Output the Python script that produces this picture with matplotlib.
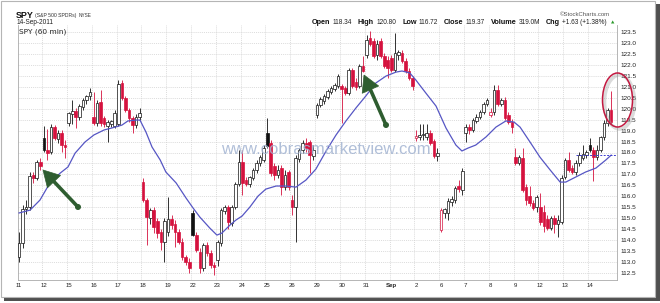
import numpy as np
import matplotlib
matplotlib.use("Agg")
import matplotlib.pyplot as plt
from matplotlib.patches import Rectangle, Ellipse, Polygon, Circle

# ---------------- data ----------------
day_labels = ['11', '12', '15', '16', '17', '18', '19', '22', '23', '24', '25', '26',
              '29', '30', '31', 'Sep', '2', '6', '7', '8', '9', '12', '13', '14']
bars_per_day = 7

opens = [113.23, 113.87, 115.42, 115.51, 116.97, 116.83, 117.56,
         118.66, 118.11, 118.02, 119.16, 118.61, 118.89, 118.34,
         119.35, 119.76, 119.89, 119.62, 120.08, 120.40, 120.58,
         119.62, 119.35, 120.30, 119.57, 119.21, 119.30, 119.21,
         119.30, 121.17, 120.49, 119.94, 119.57, 119.25, 119.62,
         116.65, 115.83, 115.01, 115.37, 114.87, 114.37, 113.91,
         114.37, 114.96, 114.73, 114.37, 113.91, 113.23, 113.00,
         115.24, 114.23, 113.45, 112.72, 113.77, 113.41, 112.86,
         113.09, 113.87, 115.33, 115.51, 114.78, 115.51, 116.56,
         117.56, 116.74, 116.56, 116.83, 117.20, 117.52, 117.66,
         118.89, 118.43, 117.38, 116.97, 117.29, 116.42, 117.11,
         115.83, 115.51, 117.70, 118.11, 118.43, 118.48, 117.84,
         119.71, 120.17, 120.35, 120.53, 120.76, 120.90, 121.03,
         121.03, 120.94, 120.72, 121.76, 121.22, 121.03, 121.95,
         122.45, 123.23, 123.09, 122.45, 123.09, 122.40, 122.22,
         122.31, 121.76, 122.45, 122.54, 122.18, 121.72, 121.40,
         118.66, 118.71, 118.80, 118.71, 118.89, 118.52, 117.84,
         114.46, 115.24, 115.24, 115.74, 115.83, 116.47, 116.29,
         118.89, 119.16, 119.03, 119.44, 119.62, 119.85, 120.21,
         119.71, 119.85, 120.85, 120.21, 120.40, 119.71, 119.39,
         117.79, 117.52, 117.75, 116.42, 116.01, 115.69, 115.51,
         115.51, 115.28, 114.96, 114.55, 115.01, 114.73, 114.82,
         116.88, 117.66, 117.29, 117.11, 117.52, 117.75, 117.88,
         118.34, 118.11, 117.79, 118.11, 118.71, 119.35, 119.94]

highs = [114.37, 115.60, 115.83, 117.11, 117.11, 117.66, 117.75,
         119.21, 119.07, 119.30, 119.25, 119.03, 119.03, 118.57,
         119.85, 120.40, 120.03, 120.21, 120.49, 120.62, 120.94,
         120.76, 120.40, 120.85, 119.66, 119.48, 119.48, 119.94,
         121.31, 121.31, 120.58, 120.03, 119.66, 119.76, 120.03,
         116.83, 115.92, 115.46, 115.51, 115.01, 114.51, 115.01,
         115.97, 115.14, 114.92, 114.51, 114.09, 113.32, 113.18,
         115.37, 114.37, 113.64, 113.87, 113.91, 113.55, 113.00,
         114.00, 115.46, 115.60, 115.60, 115.60, 116.65, 118.11,
         118.11, 116.88, 116.93, 117.29, 117.66, 117.88, 118.34,
         119.57, 118.57, 117.52, 117.43, 117.43, 117.20, 117.20,
         116.06, 117.88, 118.20, 118.57, 118.66, 118.57, 118.34,
         120.26, 120.53, 120.67, 120.90, 121.03, 121.17, 121.58,
         121.13, 121.03, 121.86, 121.86, 121.40, 122.04, 122.40,
         123.36, 123.55, 123.23, 123.13, 123.23, 122.54, 122.40,
         122.45, 123.45, 122.68, 122.68, 122.31, 121.86, 121.49,
         119.03, 119.30, 119.30, 119.30, 119.03, 118.61, 118.20,
         115.46, 115.46, 115.92, 116.01, 116.47, 116.74, 117.29,
         119.30, 119.30, 119.57, 119.76, 119.94, 120.30, 120.49,
         120.03, 121.08, 121.08, 120.49, 120.53, 119.85, 119.53,
         118.20, 117.88, 118.20, 116.56, 116.47, 115.83, 116.06,
         116.15, 115.60, 115.14, 115.10, 115.14, 115.14, 116.97,
         117.75, 118.02, 117.43, 117.66, 118.02, 118.34, 118.11,
         118.66, 118.25, 118.34, 118.75, 119.48, 120.03, 120.80]

lows = [113.00, 113.64, 115.19, 115.37, 116.61, 116.74, 117.20,
        118.02, 117.66, 117.93, 118.57, 118.43, 118.02, 117.75,
        119.21, 119.30, 119.12, 119.48, 119.94, 120.21, 120.40,
        119.25, 119.21, 119.21, 119.16, 118.48, 119.16, 119.12,
        119.21, 120.40, 119.85, 119.39, 118.89, 119.12, 119.48,
        115.74, 113.77, 114.73, 114.32, 114.09, 113.55, 113.00,
        114.19, 114.51, 113.68, 113.82, 113.09, 112.86, 112.50,
        114.19, 113.45, 112.50, 112.59, 113.27, 112.72, 112.40,
        112.82, 113.73, 115.19, 114.51, 114.64, 115.42, 116.47,
        116.06, 116.47, 116.42, 116.74, 117.06, 117.38, 117.56,
        118.20, 116.93, 116.74, 116.83, 116.06, 116.29, 116.29,
        115.14, 113.91, 117.56, 117.97, 118.02, 117.06, 117.66,
        119.57, 120.08, 120.21, 120.44, 120.67, 120.81, 120.94,
        119.35, 120.62, 120.62, 120.94, 120.85, 120.94, 121.67,
        122.31, 122.86, 122.31, 122.22, 122.31, 121.86, 121.40,
        121.67, 121.67, 122.22, 122.08, 121.63, 121.31, 120.85,
        118.52, 118.57, 118.57, 118.57, 118.34, 117.75, 117.61,
        114.37, 115.01, 114.92, 115.56, 115.69, 116.19, 116.06,
        118.48, 118.84, 118.93, 119.35, 119.53, 119.76, 120.12,
        119.62, 119.71, 120.12, 120.12, 119.48, 119.30, 118.89,
        117.43, 117.43, 116.19, 115.60, 115.56, 115.37, 115.28,
        114.69, 114.37, 114.46, 114.46, 114.32, 114.14, 114.73,
        116.79, 117.11, 117.02, 116.97, 117.38, 117.66, 117.75,
        118.02, 116.72, 117.66, 118.02, 118.57, 119.21, 119.30]

closes = [113.87, 115.42, 115.51, 116.93, 116.83, 117.56, 117.38,
          118.11, 117.97, 119.16, 118.66, 118.89, 118.34, 118.25,
          119.80, 119.89, 119.62, 120.12, 120.40, 120.58, 120.76,
          119.35, 120.26, 119.35, 119.30, 119.39, 119.44, 119.80,
          121.13, 120.49, 119.94, 119.57, 119.25, 119.62, 119.80,
          115.83, 115.05, 115.37, 114.60, 114.32, 113.91, 114.87,
          114.96, 114.69, 114.37, 113.91, 113.23, 113.00, 112.72,
          114.23, 113.55, 112.72, 113.77, 113.41, 112.86, 112.77,
          113.91, 115.37, 115.51, 114.82, 115.51, 116.56, 117.56,
          116.61, 116.56, 116.88, 117.20, 117.52, 117.79, 118.20,
          118.29, 117.06, 116.97, 117.20, 116.42, 116.97, 116.42,
          115.51, 117.75, 118.11, 118.43, 118.20, 117.88, 118.11,
          120.17, 120.44, 120.58, 120.81, 120.94, 121.08, 121.49,
          120.90, 120.72, 121.76, 121.03, 120.99, 121.95, 121.72,
          123.13, 122.95, 122.40, 122.95, 122.40, 121.95, 121.86,
          121.76, 122.54, 122.59, 122.18, 121.72, 121.40, 121.03,
          118.75, 118.80, 118.84, 118.89, 118.43, 117.84, 117.97,
          115.37, 115.42, 115.78, 115.88, 116.38, 116.33, 117.15,
          119.16, 119.03, 119.48, 119.62, 119.85, 120.21, 120.40,
          119.85, 120.85, 120.21, 120.40, 119.57, 119.39, 119.16,
          117.52, 117.79, 116.29, 115.83, 115.69, 115.46, 115.97,
          114.82, 114.64, 114.55, 115.01, 114.73, 114.92, 116.83,
          117.66, 117.20, 117.11, 117.52, 117.88, 117.93, 118.02,
          118.11, 117.79, 118.11, 118.71, 119.35, 119.94, 119.37]

# moving average line (bar position, value)
sma_pos = [0, 3.1, 5.9, 8.7, 11.6, 13.8, 15.8, 18.6, 21.1, 24.0, 26.2, 29.0, 30.7,
           33.0, 34.1, 35.8, 37.5, 39.8, 41.4, 44.3, 47.1, 49.1, 51.0, 53.8, 55.8,
           57.2, 59.5, 61.2, 62.9, 65.1, 67.4, 69.6, 72.5, 75.3, 78.1, 80.9, 83.7,
           86.6, 89.4, 92.2, 95.0, 97.8, 100.6, 103.5, 106.3, 108.0, 110.2, 111.9,
           114.7, 117.6, 120.4, 123.2, 124.9, 126.6, 128.8, 131.7, 134.5, 137.3,
           139.6, 141.3, 144.1, 146.9, 149.8, 152.6, 154.2, 157.0, 159.8, 162.7,
           165.5, 167.0]
sma_val = [115.24, 115.37, 115.83, 116.61, 117.06, 117.34, 117.97, 118.48, 118.80,
           119.03, 119.12, 119.25, 119.44, 119.48, 119.48, 118.93, 118.25, 117.66,
           117.11, 116.61, 115.92, 115.46, 115.05, 114.55, 114.23, 114.32, 114.69,
           114.92, 115.10, 115.51, 116.01, 116.33, 116.47, 116.47, 116.42, 116.74,
           117.24, 118.07, 118.80, 119.44, 120.03, 120.58, 121.17, 121.49, 121.67,
           121.72, 121.63, 121.31, 120.72, 120.12, 119.12, 118.34, 118.07, 118.20,
           118.34, 118.71, 119.16, 119.44, 119.39, 119.16, 118.48, 117.79, 117.20,
           116.65, 116.65, 116.88, 117.11, 117.29, 117.66, 117.88]

y_ticks = [112.5 + 0.5 * k for k in range(23)]

header_labels = ['Open', 'High', 'Low', 'Close', 'Volume', 'Chg']
header_values = ['118.34', '120.80', '116.72', '119.37', '319.0M', '+1.63 (+1.38%)']

# ---------------- styling ----------------
plt.rcParams['font.family'] = ['Liberation Sans', 'DejaVu Sans']
RED = '#d5123e'
BLK = '#111111'
GRID = '#cfcfcf'
SMA_COL = '#5656c4'
ARROW = '#2e5d30'

W, H = 660, 303
fig = plt.figure(figsize=(W / 100, H / 100), dpi=100)
fig.patch.set_facecolor('white')
renderer = fig.canvas.get_renderer()


def px_rect(x0, y0, x1, y1):
    return [x0 / W, 1 - y1 / H, (x1 - x0) / W, (y1 - y0) / H]


# background frame with drop shadow
bg = fig.add_axes([0, 0, 1, 1], zorder=0)
bg.set_xlim(0, W)
bg.set_ylim(H, 0)
bg.axis('off')
bg.add_patch(Rectangle((4, 4), 656, 297, fc='#505050', ec='none'))
bg.add_patch(Rectangle((0.5, 0.5), 654.5, 296, fc='white', ec='#b5b5b5', lw=0.8))

# ---------------- main chart ----------------
ax = fig.add_axes(px_rect(18, 25, 616.5, 280), zorder=1)
ax.patch.set_visible(False)
n = len(closes)
ax.set_xlim(-0.3, n + 0.5)
ax.set_ylim(112.18, 123.82)

# grid
for k in range(1, len(day_labels)):
    ax.axvline(k * bars_per_day - 0.5, color=GRID, lw=0.5, ls=(0, (1.5, 1.5)), zorder=0.5)
for yv in y_ticks:
    ax.axhline(yv, color=GRID, lw=0.5, ls=(0, (1.5, 1.5)), zorder=0.5)

# candles
bw = 0.74
for i in range(n):
    o, h, l, c = opens[i], highs[i], lows[i], closes[i]
    prev = closes[i - 1] if i > 0 else o
    col = BLK if c >= prev else RED
    hollow = c > o
    ax.vlines(i, l, h, color=col, lw=0.6, zorder=2)
    b = min(o, c)
    hh = max(abs(c - o), 0.03)
    ax.add_patch(Rectangle((i - bw / 2, b), bw, hh, fc='white' if hollow else col,
                           ec=col, lw=0.5, zorder=3))

# moving average
ax.plot(sma_pos, sma_val, color=SMA_COL, lw=0.9, zorder=4)
ax.plot([sma_pos[-5], n + 0.5], [sma_val[-1], sma_val[-1]], color='#3d3dd0', lw=0.7,
        ls=(0, (2, 1.5)), zorder=4)

# axes formatting
ax.yaxis.tick_right()
ax.set_yticks(y_ticks)
ax.set_yticklabels([f'{v:.1f}' for v in y_ticks])
ax.set_xticks([k * bars_per_day for k in range(len(day_labels))])
ax.set_xticklabels(day_labels)
ax.tick_params(axis='y', length=0, pad=3.2, labelsize=4.6, labelcolor='#222222')
ax.tick_params(axis='x', length=0, pad=2.5, labelsize=4.4, labelcolor='#222222')
for t in ax.get_xticklabels():
    if t.get_text() == 'Sep':
        t.set_fontweight('bold')
for s in ax.spines.values():
    s.set_color('#aaaaaa')
    s.set_linewidth(0.6)
ax.spines['top'].set_visible(False)


# ---------------- header texts ----------------
def width_of(t):
    return t.get_window_extent(renderer=renderer).width


# left title line, laid out piece after piece
x = 16.0
for txt, size, weight, gap in [('SPY', 6.4, 'bold', 1.5), ('(S&P 500 SPDRs)', 3.7, 'normal', 1.8),
                               ('NYSE', 3.4, 'normal', 0)]:
    t = bg.text(x, 15.3, txt, fontsize=size, fontweight=weight, va='center', ha='left',
                color='#111' if weight == 'bold' else '#333')
    x += width_of(t) + gap

bg.text(17, 23, '14-Sep-2011', fontsize=4.7, va='center', ha='left', color='#222')
bg.text(560, 14.5, '\u00a9StockCharts.com', fontsize=4.3, va='center', ha='left', color='#555')

# right quote line: measure, then spread to fill 312 .. 607
lab_size, val_size = 5.2, 4.7
pieces = []
for lt, vt in zip(header_labels, header_values):
    pieces.append(bg.text(0, 22.8, lt, fontsize=lab_size, fontweight='bold', va='center',
                          ha='left', color='#111'))
    pieces.append(bg.text(0, 22.8, vt, fontsize=val_size, va='center', ha='left',
                          color='#222'))
widths = [width_of(p) for p in pieces]
inner_gap = 2.2
free = (607 - 312) - sum(widths) - inner_gap * len(header_labels)
pair_gap = free / (len(header_labels) - 1)
x = 312.0
for k, p in enumerate(pieces):
    p.set_x(x)
    x += widths[k] + (inner_gap if k % 2 == 0 else pair_gap)
bg.text(610.5, 22.8, '\u25b2', fontsize=3.2, va='center', ha='left', color='#2a9a2a',
        family='DejaVu Sans')

# ---------------- overlay: annotations ----------------
ov = fig.add_axes([0, 0, 1, 1], zorder=5)
ov.set_xlim(0, W)
ov.set_ylim(H, 0)
ov.axis('off')
ov.patch.set_visible(False)

ov.text(19, 31.5, 'SPY (60 min)', fontsize=5.3, va='center', ha='left', color='#222',
        family='DejaVu Sans')

ov.text(326, 154, 'www.cobrasmarketview.com', fontsize=12, ha='center', va='baseline',
        color='#a3b4d2', alpha=0.85, family='Liberation Sans')


def arrow(tail, tip, head_len=16, head_half=9, shaft=2.6, dot=3.0):
    tail = np.array(tail, float)
    tip = np.array(tip, float)
    d = tip - tail
    u = d / np.hypot(*d)
    nrm = np.array([-u[1], u[0]])
    base = tip - head_len * u
    ov.plot([tail[0], base[0] + 2 * u[0]], [tail[1], base[1] + 2 * u[1]], color=ARROW,
            lw=shaft, solid_capstyle='round')
    ov.add_patch(Polygon([tip, base + head_half * nrm, base - head_half * nrm],
                         closed=True, fc=ARROW, ec=ARROW, lw=0.5))
    ov.add_patch(Circle(tail, dot, fc=ARROW, ec='none'))


arrow((78, 207), (43, 170))
arrow((386, 125), (364, 75))

ov.add_patch(Ellipse((619.5, 102), 30, 54, fc='none', ec='#999999', lw=2.6, alpha=0.35))
ov.add_patch(Ellipse((617.5, 100), 30, 54, fc='none', ec='#c31840', lw=1.1))

fig.savefig('out.png', dpi=100, facecolor='white')
